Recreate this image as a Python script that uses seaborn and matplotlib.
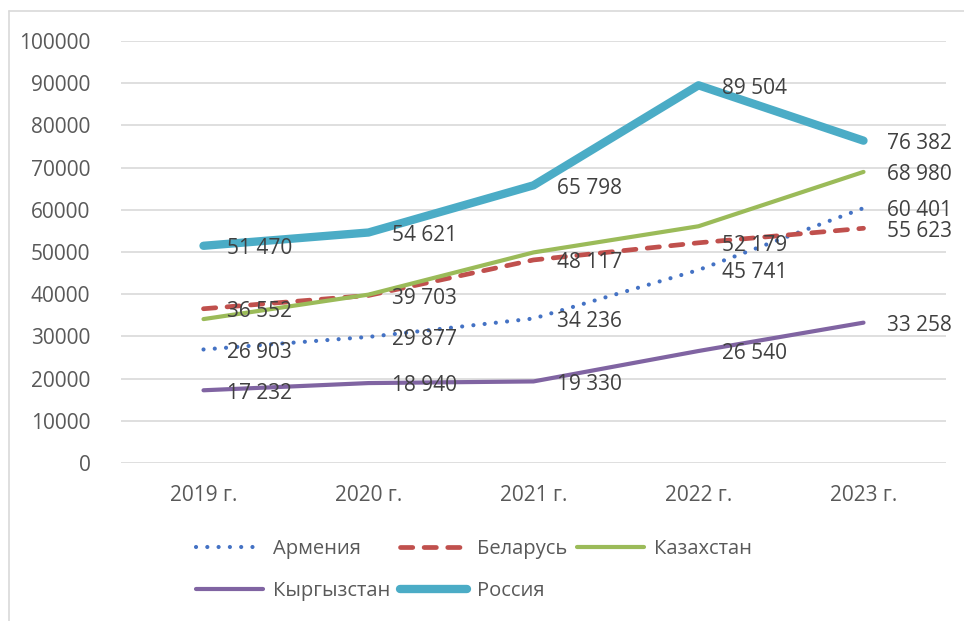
import numpy as np
import pandas as pd
import matplotlib
matplotlib.use("Agg")
import matplotlib.pyplot as plt
import seaborn as sns
from matplotlib.lines import Line2D

# ---------------------- данные ----------------------
years = ["2019 г.", "2020 г.", "2021 г.", "2022 г.", "2023 г."]
armenia = [26903, 29877, 34236, 45741, 60401]
belarus = [36552, 39703, 48117, 52179, 55623]
kazakhstan = [34100, 39900, 49900, 56100, 68980]
kyrgyzstan = [17232, 18940, 19330, 26540, 33258]
russia = [51470, 54621, 65798, 89504, 76382]

# какие точки подписаны
label_mask = {
    "Армения": [True] * 5,
    "Беларусь": [True] * 5,
    "Казахстан": [False, False, False, False, True],
    "Кыргызстан": [True] * 5,
    "Россия": [True] * 5,
}

series = {
    "Армения": armenia,
    "Беларусь": belarus,
    "Казахстан": kazakhstan,
    "Кыргызстан": kyrgyzstan,
    "Россия": russia,
}

styles = {
    "Армения": dict(color="#4472C4", lw=3.0, ls=(0, (0.01, 2.7)), cap="round"),
    "Беларусь": dict(color="#C0504D", lw=3.4, ls=(0, (2.6, 2.4)), cap="round"),
    "Казахстан": dict(color="#9BBB59", lw=3.0, ls="-", cap="round"),
    "Кыргызстан": dict(color="#8064A2", lw=3.0, ls="-", cap="round"),
    "Россия": dict(color="#4BACC6", lw=6.0, ls="-", cap="round"),
}

df = pd.DataFrame(
    [(name, i, v) for name, vals in series.items() for i, v in enumerate(vals)],
    columns=["country", "x", "value"],
)

sns.set_style("white")
plt.rcParams["font.family"] = ["Open Sans", "DejaVu Sans"]

fig = plt.figure(figsize=(9.64, 6.21), dpi=100)
ax = fig.add_axes([121 / 964, 1 - 463 / 621, (946 - 121) / 964, (463 - 41) / 621])

for name in series:
    st = styles[name]
    sub = df[df["country"] == name]
    sns.lineplot(data=sub, x="x", y="value", ax=ax, color=st["color"],
                 linewidth=st["lw"], linestyle=st["ls"], legend=False,
                 dash_capstyle=st["cap"], solid_capstyle=st["cap"],
                 solid_joinstyle="round", zorder=3)
    for i, (v, show) in enumerate(zip(series[name], label_mask[name])):
        if not show:
            continue
        txt = f"{v:,}".replace(",", " ")
        ax.annotate(txt, (i, v), xytext=(17, -2), textcoords="offset points",
                    ha="left", va="center", fontsize=15, color="#404040", zorder=5)

ax.set_xlim(-0.5, 4.5)
ax.set_ylim(0, 100000)
ax.set_yticks(np.arange(0, 100001, 10000))
ax.set_yticklabels([str(t) for t in range(0, 100001, 10000)])
ax.set_xticks(range(len(years)))
ax.set_xticklabels(years)
ax.tick_params(axis="both", length=0, labelsize=15, labelcolor="#595959")
ax.tick_params(axis="y", pad=22)
ax.tick_params(axis="x", pad=16)
ax.grid(axis="y", color="#D9D9D9", linewidth=1.2)
ax.grid(axis="x", visible=False)
ax.set_xlabel("")
ax.set_ylabel("")
for sp in ax.spines.values():
    sp.set_visible(False)

# легенда: две строки, как в Excel
order = ["Армения", "Кыргызстан", "Беларусь", "Россия", "Казахстан"]
handles = []
for name in order:
    st = styles[name]
    handles.append(Line2D([0], [0], color=st["color"], lw=st["lw"], ls=st["ls"],
                          dash_capstyle=st["cap"], solid_capstyle=st["cap"]))
fig.legend(handles, order, ncol=3, loc="center", bbox_to_anchor=(474 / 964, 1 - 570 / 621),
           frameon=False, fontsize=14.5, handlelength=3.3, handletextpad=0.5,
           columnspacing=0.5, labelspacing=1.05, labelcolor="#595959")

# рамка области диаграммы
fig.add_artist(Line2D([8.5 / 964, 8.5 / 964], [0, 1 - 10.5 / 621], color="#D9D9D9", lw=1.2))
fig.add_artist(Line2D([8.5 / 964, 1], [1 - 10.5 / 621, 1 - 10.5 / 621], color="#D9D9D9", lw=1.2))

fig.savefig("out.png", dpi=100)
